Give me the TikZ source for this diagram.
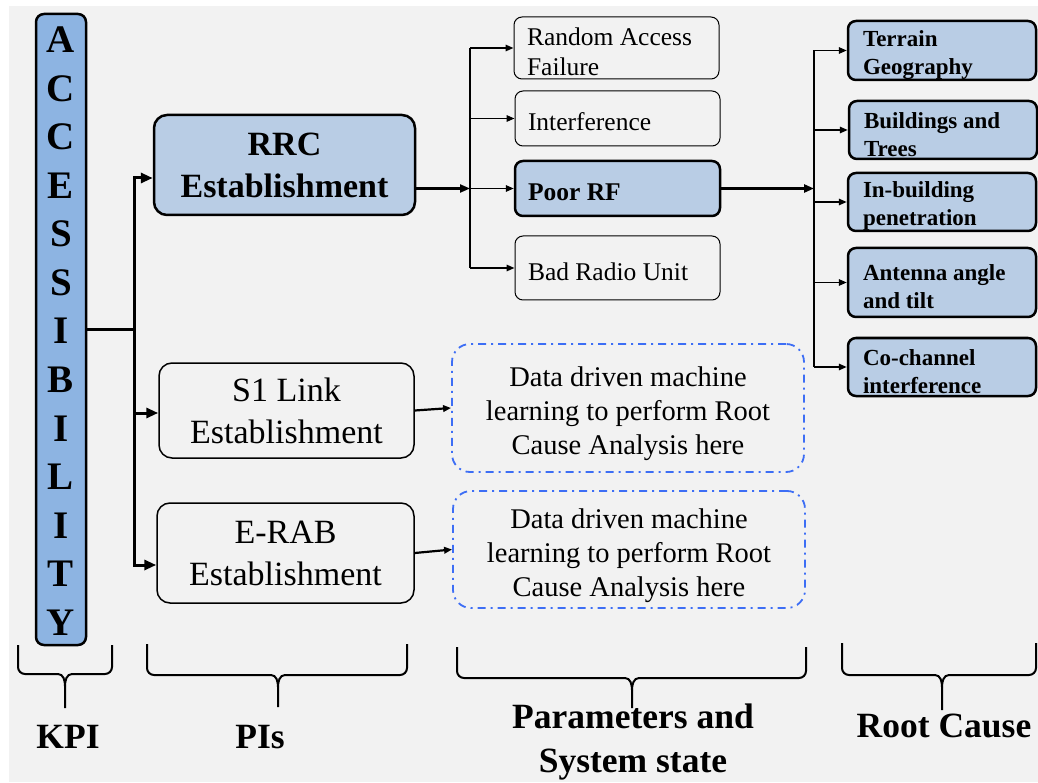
\documentclass[tikz,border=0pt]{standalone}
\usepackage{fontspec}
\setmainfont{Liberation Serif}
\usetikzlibrary{arrows.meta}
\definecolor{bggray}{HTML}{F2F2F2}
\definecolor{kpiblue}{HTML}{8DB4E2}
\definecolor{lightblue}{HTML}{B9CDE5}
\definecolor{dashblue}{HTML}{3D6EF5}

% Curly bracket under a column: x-left, x-right, x-stem, top, bar, tip
\newcommand{\drawbrace}[6]{%
  \draw[bracket] (#1,#4) -- (#1,#5-7) to[out=-90,in=180] (#1+7,#5) -- (#3-7,#5)
    to[out=0,in=90] (#3,#5+12) -- (#3,#6);
  \draw[bracket] (#2,#4) -- (#2,#5-7) to[out=-90,in=0] (#2-7,#5) -- (#3+7,#5)
    to[out=180,in=90] (#3,#5+12);}

\begin{document}
\begin{tikzpicture}[x=1pt,y=-1pt,
  kpibox/.style={draw, line width=2.5pt, fill=kpiblue, rounded corners=8pt, inner sep=0pt},
  kpiletter/.style={font=\fontsize{39}{48}\selectfont\bfseries, inner sep=0pt},
  pibold/.style={draw, line width=2.5pt, fill=lightblue, rounded corners=13pt, inner sep=0pt,
    align=center, font=\fontsize{34}{42}\selectfont\bfseries},
  piplain/.style={draw, line width=1.5pt, rounded corners=13pt, inner sep=0pt,
    align=center, font=\fontsize{34}{42}\selectfont},
  parbox/.style={draw, line width=1pt, rounded corners=8pt, inner ysep=0pt, inner xsep=13pt,
    text width=179pt, align=flush left, font=\fontsize{25.5}{30}\selectfont,
    execute at begin node={\rule{0pt}{25pt}}},
  parbold/.style={parbox, line width=2.5pt, fill=lightblue, font=\fontsize{25.5}{30}\selectfont\bfseries},
  causebox/.style={draw, line width=2.5pt, fill=lightblue, rounded corners=8pt, inner ysep=0pt,
    inner xsep=15pt, text width=158pt, align=flush left, font=\fontsize{23}{28}\selectfont\bfseries,
    execute at begin node={\rule{0pt}{24.5pt}}},
  mlbox/.style={draw=dashblue, line width=1.8pt, dash pattern=on 8pt off 5pt on 2pt off 5pt,
    rounded corners=18pt, inner ysep=0pt, inner xsep=11pt, text width=330pt, align=flush center,
    font=\fontsize{28.5}{34}\selectfont, execute at begin node={\rule{0pt}{31.5pt}}},
  colabel/.style={font=\fontsize{35.5}{44}\selectfont\bfseries, inner sep=0pt},
  bracket/.style={line width=2pt},
  heavy/.style={line width=3pt},
  medium/.style={line width=2.2pt},
  light/.style={line width=1.5pt},
  tipL/.style={-{Triangle[length=12pt,width=10pt]}},
  tipM/.style={-{Triangle[length=10pt,width=8pt]}},
  tipS/.style={-{Triangle[length=8pt,width=6.5pt]}}]

\useasboundingbox (0,0) rectangle (1038,783);
\fill[bggray] (9,6) rectangle (1038,782);

% KPI column
\node[kpibox, minimum width=50, minimum height=631] (acc) at (61,329.5) {};
\foreach \ch [count=\i from 0] in {A,C,C,E,S,S,I,B,I,L,I,T,Y}
  \node[kpiletter, anchor=base] (acc-\i) at (61,{53+48.5*\i}) {\ch};

% PI column
\node[pibold, minimum width=261, minimum height=100] (rrc) at (284.5,165) {RRC\\Establishment};
\node[piplain, minimum width=255, minimum height=95] (s1) at (286.5,410.5) {S1 Link\\Establishment};
\node[piplain, minimum width=257, minimum height=100] (erab) at (285.5,553) {E-RAB\\Establishment};

% Parameters and system state
\node[parbox, minimum height=62] (raf) at (616.5,48) {Random Access\\Failure};
\node[parbox, minimum height=55] (intf) at (617.5,118.5) {Interference};
\node[parbold, minimum height=55] (poor) at (617.5,188.5) {Poor RF};
\node[parbox, minimum height=64] (bad) at (617.5,268) {Bad Radio Unit};
\node[mlbox, minimum height=128] (ml1) at (628,408)
  {Data driven machine\\learning to perform Root\\Cause Analysis here};
\node[mlbox, minimum height=117] (ml2) at (629,549.5)
  {Data driven machine\\learning to perform Root\\Cause Analysis here};

% Root causes
\node[causebox, minimum height=59] (terr) at (942,50.5) {Terrain\\Geography};
\node[causebox, minimum height=58] (bldg) at (943,130) {Buildings and\\Trees};
\node[causebox, minimum height=58] (inbl) at (942,202) {In-building\\penetration};
\node[causebox, minimum height=69] (ante) at (942,282.5) {Antenna angle\\and tilt};
\node[causebox, minimum height=58] (coch) at (942,367) {Co-channel\\interference};

% KPI to PIs
\coordinate (kj) at (134,329.5);
\coordinate (kt) at (134,178);
\coordinate (km) at (134,413);
\coordinate (kb) at (134,565);
\draw[heavy] (acc.east) -- (kj);
\draw[heavy, tipL] (km) -- (kt) -- (kt -| rrc.west);
\draw[heavy, tipL] (km) -- (kb) -- (kb -| erab.west);
\draw[heavy, tipL] (km) -- (km -| s1.west);

% RRC to parameters
\coordinate (pj) at (470,188.5);
\draw[medium, tipM] (rrc.east |- poor) -- (pj);
\draw[light] (raf.west -| pj) -- (bad.west -| pj);
\foreach \n in {raf,intf,poor,bad}
  \draw[light, tipS] (\n.west -| pj) -- (\n.west);

% Poor RF to root causes
\coordinate (rj) at (814,188.5);
\draw[heavy, tipM] (poor.east) -- (rj);
\draw[light] (terr.west -| rj) -- (coch.west -| rj);
\foreach \n in {terr,bldg,inbl,ante,coch}
  \draw[light, tipS] (\n.west -| rj) -- (\n.west);

% Remaining PIs to ML analysis
\draw[medium, tipS] (s1.east) -- (ml1.west);
\draw[medium, tipS] (erab.east) -- (ml2.west);

% Column brackets and labels
\drawbrace{18}{112}{65}{645}{674}{708}
\drawbrace{147}{407}{278}{644}{675}{707}
\drawbrace{457}{806}{632}{647}{678}{708}
\drawbrace{842}{1036}{942}{643}{675}{710}

\node[colabel, anchor=base] (lkpi) at (68,748) {KPI};
\node[colabel, anchor=base] (lpis) at (260,748) {PIs};
\node[colabel, anchor=base] (lpar1) at (633,728) {Parameters and};
\node[colabel, anchor=base] (lpar2) at (633,772) {System state};
\node[colabel, anchor=base] (lroot) at (944,737) {Root Cause};
\end{tikzpicture}
\end{document}
